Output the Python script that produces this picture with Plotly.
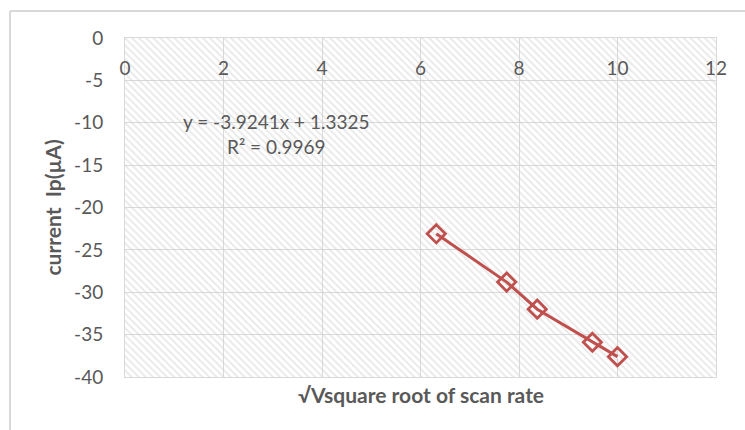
import plotly.graph_objects as go

# Data
sqrt_scan_rate = [6.32, 7.75, 8.37, 9.49, 10.0]
current_ip = [-23.1, -28.8, -32.0, -35.9, -37.6]

x_ticks = [0, 2, 4, 6, 8, 10, 12]
y_ticks = [0, -5, -10, -15, -20, -25, -30, -35, -40]
y_tick_text = ["0", "-5", "-10", "-15", "-20", "-25", "-30", "-35", "-40"]
x_range = [0, 12]
y_range = [-40, 0]

equation_text = "y = -3.9241x + 1.3325"
r2_text = "R² = 0.9969"
x_title = "√Vsquare root of scan rate"
y_title = "current  Ip(µA)"

FONT = "Lato"
GRAY = "#595959"
GRID = "#d9d9d9"
RED = "#c0504d"

fig = go.Figure()

# hatched plot-area background (Excel pattern fill)
fig.add_trace(go.Scatter(
    x=[x_range[0], x_range[1], x_range[1], x_range[0], x_range[0]],
    y=[y_range[1], y_range[1], y_range[0], y_range[0], y_range[1]],
    mode="lines", line=dict(width=0), fill="toself",
    fillcolor="rgba(0,0,0,0)",
    fillpattern=dict(shape="\\", fgcolor="#d2d2d2", bgcolor="rgba(255,255,255,0)",
                     size=5, solidity=0.35),
    hoverinfo="skip", showlegend=False,
))

fig.add_trace(go.Scatter(
    x=sqrt_scan_rate, y=current_ip, mode="lines+markers",
    line=dict(color=RED, width=3),
    marker=dict(symbol="diamond-open", size=14, color=RED, line=dict(width=2.8, color=RED)),
    showlegend=False,
))

fig.add_annotation(x=3.07, y=-9.9, text=equation_text, showarrow=False,
                   font=dict(family=FONT, size=19, color=GRAY))
fig.add_annotation(x=3.07, y=-12.75, text=r2_text, showarrow=False,
                   font=dict(family=FONT, size=19, color=GRAY))

# outer chart border (left and top)
fig.add_shape(type="line", xref="paper", yref="paper", x0=-0.1946, x1=-0.1946, y0=1.0796, y1=-0.2,
              line=dict(color=GRID, width=2))
fig.add_shape(type="line", xref="paper", yref="paper", x0=-0.1946, x1=1.1, y0=1.0796, y1=1.0796,
              line=dict(color=GRID, width=2))

fig.update_layout(
    width=745, height=430,
    margin=dict(l=125, r=29, t=38, b=53, autoexpand=False),
    paper_bgcolor="white", plot_bgcolor="white",
    font=dict(family=FONT, size=19, color=GRAY),
    xaxis=dict(
        range=x_range, tickvals=x_ticks, side="top", ticklabelposition="inside",
        ticklabeloverflow="allow", automargin=False,
        ticks="", ticklabelstandoff=25,
        showgrid=True, gridcolor=GRID, gridwidth=1, zeroline=False,
        showline=True, linecolor=GRID, mirror=True,
        tickfont=dict(family=FONT, size=19, color=GRAY),
    ),
    yaxis=dict(
        range=y_range, tickvals=y_ticks, ticktext=y_tick_text, automargin=False,
        ticks="", ticklabelstandoff=17,
        showgrid=True, gridcolor=GRID, gridwidth=1, zeroline=False,
        showline=True, linecolor=GRID, mirror=True,
        tickfont=dict(family=FONT, size=19, color=GRAY),
    ),
)

fig.add_annotation(xref="paper", yref="paper", x=-0.1235, y=0.5, textangle=-90,
                   xanchor="center", yanchor="middle",
                   text="<b>" + y_title + "</b>", showarrow=False,
                   font=dict(family=FONT, size=21, color=GRAY))
fig.add_annotation(xref="paper", yref="paper", x=0.5, y=-0.053, xanchor="center", yanchor="middle",
                   text="<b>" + x_title + "</b>", showarrow=False,
                   font=dict(family=FONT, size=21, color=GRAY))

fig.write_html("out.html", config={"displayModeBar": False},
               post_script="document.body.style.margin='0';document.body.style.padding='0';")
